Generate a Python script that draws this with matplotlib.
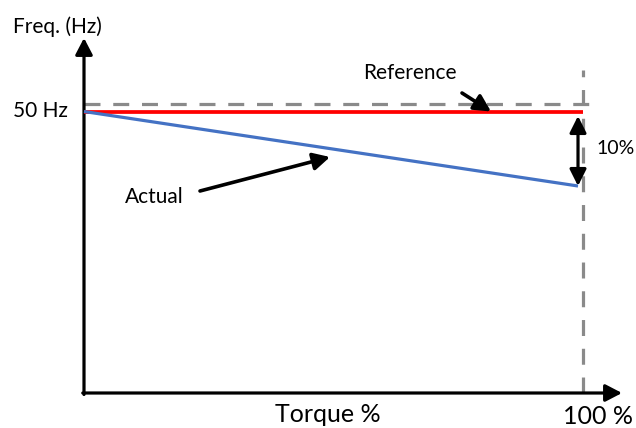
import matplotlib
matplotlib.use("Agg")
import matplotlib.pyplot as plt

plt.rcParams['font.family'] = ['Lato', 'DejaVu Sans']

# ---- data (torque in %, frequency in Hz) ----
torque_ref = [0, 100]
freq_ref = [50, 50]
torque_actual = [0, 99]
freq_actual = [50, 45]
guide_freq = 50.5          # dashed horizontal guide
guide_torque = 100         # dashed vertical guide
drop_label = "10%"
x_label = "Torque %"
x_end_label = "100 %"
y_label = "Freq. (Hz)"
y_tick_label = "50 Hz"

# ---- layout helpers (pixel -> data), for a 636x428 canvas ----
W, H = 636, 428
X0PX, XS = 84, 4.99      # px of torque 0, px per %
Y0PX, YS = 111.5, 14.9   # px of 50 Hz, px per Hz
def px_x(px):
    return (px - X0PX) / XS
def px_y(py):
    return 50 - (py - Y0PX) / YS

fig = plt.figure(figsize=(W / 100, H / 100), dpi=100)
ax = fig.add_axes([0, 0, 1, 1])
ax.set_xlim(px_x(0), px_x(W))
ax.set_ylim(px_y(H), px_y(0))
ax.axis('off')

x_min, y_min = 0, px_y(393)
x_tip, y_tip = px_x(622), px_y(38)

head = '-|>,head_length=0.5,head_width=0.26'
# axes arrows
ax.annotate('', xy=(x_tip, y_min), xytext=(x_min - 0.25, y_min),
            arrowprops=dict(arrowstyle=head, lw=2.3, color='black',
                            shrinkA=0, shrinkB=0, mutation_scale=20))
ax.annotate('', xy=(x_min, y_tip), xytext=(x_min, y_min - 0.1),
            arrowprops=dict(arrowstyle=head, lw=2.3, color='black',
                            shrinkA=0, shrinkB=0, mutation_scale=20))

gray = '#8a8a8a'
# dashed guides
ax.plot([0, px_x(596)], [guide_freq, guide_freq], color=gray, lw=2.3,
        dashes=(5, 4), zorder=1)
ax.plot([guide_torque, guide_torque], [y_min, px_y(70)], color=gray, lw=2.3,
        dashes=(5, 4), zorder=1)

# reference and actual lines
ax.plot(torque_ref, freq_ref, color='#ff0000', lw=2.7, solid_capstyle='butt', zorder=3)
ax.plot(torque_actual, freq_actual, color='#4472c4', lw=2.3, solid_capstyle='butt', zorder=3)

# double arrow for the drop
ax.annotate('', xy=(torque_actual[1], freq_actual[1]),
            xytext=(torque_actual[1], px_y(116)),
            arrowprops=dict(arrowstyle='<|-|>,head_length=0.5,head_width=0.25',
                            lw=2.3, color='black', shrinkA=0, shrinkB=0,
                            mutation_scale=20), zorder=4)

# pointer arrows
ax.annotate('', xy=(px_x(491), freq_ref[0]), xytext=(px_x(462), px_y(93)),
            arrowprops=dict(arrowstyle=head, lw=2.6, color='black',
                            shrinkA=0, shrinkB=0, mutation_scale=20), zorder=4)
ax.annotate('', xy=(px_x(330), px_y(157)), xytext=(px_x(200), px_y(191)),
            arrowprops=dict(arrowstyle=head, lw=2.6, color='black',
                            shrinkA=0, shrinkB=0, mutation_scale=20), zorder=4)

# texts
fs = 15
ax.text(px_x(13), px_y(27), y_label, fontsize=fs, ha='left', va='center')
ax.text(px_x(13), px_y(111), y_tick_label, fontsize=fs, ha='left', va='center')
ax.text(px_x(410), px_y(73), "Reference", fontsize=fs, ha='center', va='center')
ax.text(px_x(154), px_y(197), "Actual", fontsize=fs, ha='center', va='center')
ax.text(px_x(596), px_y(148), drop_label, fontsize=14, ha='left', va='center')
ax.text(px_x(328), px_y(422), x_label, fontsize=18, ha='center', va='baseline')
ax.text(px_x(598), px_y(424), x_end_label, fontsize=18, ha='center', va='baseline')

fig.savefig('out.png', dpi=100)
